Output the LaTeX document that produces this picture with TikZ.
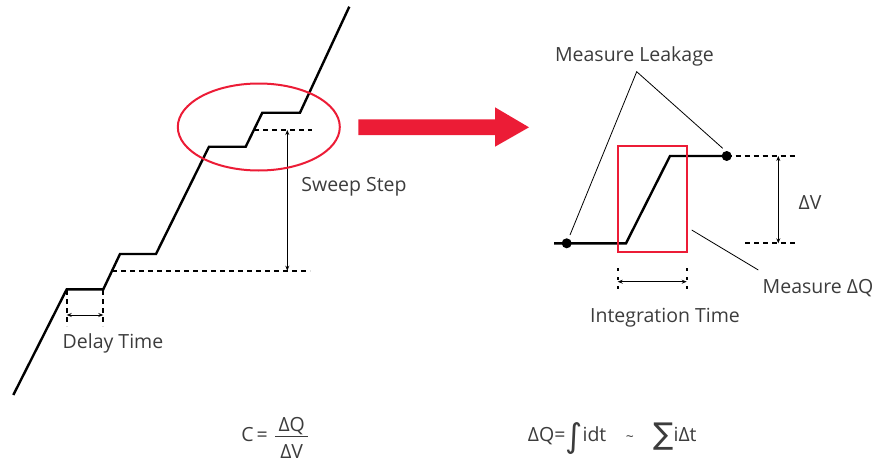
\documentclass[tikz,border=0pt]{standalone}
\usepackage{fontspec}
\setmainfont{Open Sans}
\newfontfamily\symfont{DejaVu Sans}
\usetikzlibrary{arrows.meta,shapes.geometric}
\definecolor{kred}{RGB}{236,28,54}
\definecolor{ktext}{RGB}{60,60,60}
\tikzset{
  stair/.style={line width=2.4pt, line join=miter},
  dashlvl/.style={line width=2pt, dash pattern=on 5pt off 4pt},
  dashtick/.style={line width=2pt, dash pattern=on 3pt off 6pt},
  dimarrow/.style={line width=0.9pt, {Stealth[length=5pt,width=4pt]}-{Stealth[length=5pt,width=4pt]}},
  leader/.style={line width=0.8pt},
  lbl/.style={text=ktext, font=\fontsize{19.5}{22}\selectfont, inner sep=0pt},
  redline/.style={draw=kred, line width=2pt},
  blob/.style={circle, fill=black, minimum size=10pt, inner sep=0pt}
}
\begin{document}
\begin{tikzpicture}[x=1pt,y=-1pt]
\useasboundingbox (0,0) rectangle (875,463);
% staircase
\coordinate (s0) at (13.3,395);
\coordinate (s1) at (66.7,289.3);
\coordinate (s2) at (103.3,289.3);
\coordinate (s3) at (120,254);
\coordinate (s4) at (156,254);
\coordinate (s5) at (209,146.7);
\coordinate (s6) at (245.7,146.7);
\coordinate (s7) at (262.3,112.7);
\coordinate (s8) at (300,112.7);
\coordinate (s9) at (349.3,6.7);
\draw[stair] (s0) -- (s1) -- (s2) -- (s3) -- (s4) -- (s5) -- (s6) -- (s7) -- (s8) -- (s9);
% level lines
\coordinate (lowA) at (112,270.7);
\coordinate (lowB) at (310,270.7);
\coordinate (upA) at (254,130);
\coordinate (upB) at (312,130);
\draw[dashlvl] (lowA) -- (lowB);
\draw[dashlvl] (upA) -- (upB);
\coordinate (swT) at (287.3,130);
\coordinate (swB) at (287.3,270.7);
\draw[dimarrow] (swT) -- (swB);
\node[lbl] (sweep) at (354,187) {Sweep Step};
% delay time
\coordinate (dlT) at (66.7,290);
\coordinate (dlB) at (66.7,326);
\coordinate (drT) at (103.3,290);
\coordinate (drB) at (103.3,326);
\draw[dashlvl] (dlT) -- (dlB);
\draw[dashlvl] (drT) -- (drB);
\coordinate (da) at (66.7,315);
\coordinate (db) at (103.3,315);
\draw[dimarrow] (da) -- (db);
\node[lbl] (delay) at (113,343) {Delay Time};
% ellipse
\node[ellipse, redline, minimum width=162pt, minimum height=87pt, inner sep=0pt] (ring) at (258.8,127) {};
% big red arrow
\fill[kred] (358.3,119.3) -- (495,119.3) -- (495,107.3) -- (529,127.3) -- (495,146.7) -- (495,135) -- (358.3,135) -- cycle;
% right panel waveform
\coordinate (w0) at (554,243.3);
\coordinate (w1) at (626,243.3);
\coordinate (w2) at (670,156);
\coordinate (w3) at (726.7,156);
\draw[stair] (w0) -- (w1) -- (w2) -- (w3);
\node[blob] (dotL) at (566.7,243.3) {};
\node[blob] (dotR) at (726.7,156) {};
\coordinate (rhiE) at (798.3,156);
\coordinate (rloA) at (745,243.3);
\coordinate (rloE) at (798.3,243.3);
\draw[dashlvl] (dotR.center) -- (rhiE);
\draw[dashlvl] (rloA) -- (rloE);
\coordinate (dvT) at (778.3,156);
\coordinate (dvB) at (778.3,243.3);
\draw[dimarrow] (dvT) -- (dvB);
\node[lbl] (dv) at (810,203) {ΔV};
% red box
\draw[redline] (617.7,145.7) rectangle (686.7,251.7);
\coordinate (boxR) at (691.7,230);
% leaders
\node[lbl] (leak) at (634.5,56) {Measure Leakage};
\coordinate (apex) at (636.7,71.7);
\coordinate (tipL) at (570,235);
\coordinate (tipR) at (722.7,148.3);
\draw[leader] (tipL) -- (apex) -- (tipR);
\node[lbl] (mdq) at (818,288) {Measure ΔQ};
\coordinate (mdqL) at (758.3,270);
\draw[leader] (boxR) -- (mdqL);
% integration time
\coordinate (itLT) at (617.7,268);
\coordinate (itLB) at (617.7,293);
\coordinate (itRT) at (686.7,268);
\coordinate (itRB) at (686.7,293);
\draw[dashtick] (itLT) -- (itLB);
\draw[dashtick] (itRT) -- (itRB);
\coordinate (ia) at (617.7,281.7);
\coordinate (ib) at (686.7,281.7);
\draw[dimarrow] (ia) -- (ib);
\node[lbl] (integ) at (665,318) {Integration Time};
% formula C
\node[lbl, anchor=base east] (ceq) at (268,441.7) {C\kern3pt=};
\node[lbl, anchor=base] (num) at (291.7,431.2) {ΔQ};
\node[lbl, anchor=base] (den) at (291.7,458.5) {ΔV};
\coordinate (barL) at (275,436.7);
\coordinate (barR) at (308.3,436.7);
\draw[line width=0.9pt, ktext] (barL) -- (barR);
% formula dQ
\node[lbl, anchor=base west] (dq) at (527.7,441.7) {ΔQ=\raisebox{-6pt}{\symfont\fontsize{33}{33}\selectfont ∫}idt\hspace{1em}{\fontsize{14}{14}\selectfont\char"7E}\hspace{1em}\raisebox{-3pt}{\symfont\fontsize{30}{30}\selectfont ∑}iΔt};
\end{tikzpicture}
\end{document}
